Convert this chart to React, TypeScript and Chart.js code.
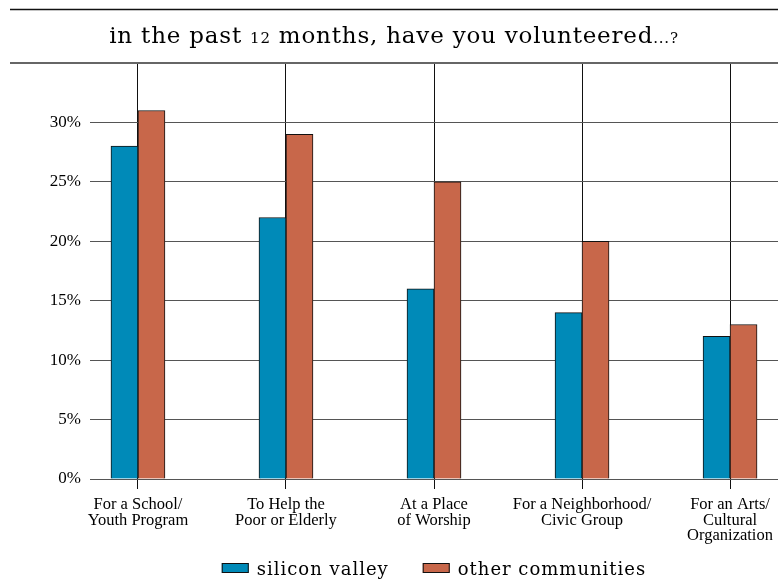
import React, { useEffect, useRef } from "react";
import { Chart, registerables } from "chart.js";

Chart.register(...registerables);

const categories: string[][] = [
  ["For a School/", "Youth Program"],
  ["To Help the", "Poor or Elderly"],
  ["At a Place", "of Worship"],
  ["For a Neighborhood/", "Civic Group"],
  ["For an Arts/", "Cultural", "Organization"],
];
const siliconValley = [28, 22, 16, 14, 12];
const otherCommunities = [31, 29, 25, 20, 13];
const seriesNames = ["silicon valley", "other communities"];
const seriesColors = ["#008AB8", "#C8674A"];
const yMax = 35;
const yStep = 5;
const titleParts = [
  { text: "in the past ", small: false },
  { text: "12", small: true },
  { text: " months, have you volunteered", small: false },
  { text: "...?", small: true },
];

const TITLE_FONT = '"DejaVu Serif"';
const AXIS_FONT = '"Liberation Serif"';

const decorPlugin = {
  id: "decor",
  afterDraw(chart: any) {
    const ctx = chart.ctx as CanvasRenderingContext2D;
    const area = chart.chartArea;
    const lineLeft = 10;
    const lineRight = area.right;
    ctx.save();
    // top black rule
    ctx.strokeStyle = "#111";
    ctx.lineWidth = 1.5;
    ctx.beginPath();
    ctx.moveTo(lineLeft, 9.5);
    ctx.lineTo(lineRight, 9.5);
    ctx.stroke();
    // gray rule under title
    ctx.strokeStyle = "#666";
    ctx.lineWidth = 2;
    ctx.beginPath();
    ctx.moveTo(lineLeft, area.top);
    ctx.lineTo(lineRight, area.top);
    ctx.stroke();

    // title
    (ctx as any).letterSpacing = "0.8px";
    ctx.fillStyle = "#000";
    ctx.textBaseline = "alphabetic";
    ctx.textAlign = "left";
    const fontFor = (small: boolean) => `${small ? 15 : 23}px ${TITLE_FONT}`;
    let total = 0;
    const widths = titleParts.map((p) => {
      ctx.font = fontFor(p.small);
      const w = ctx.measureText(p.text).width;
      total += w;
      return w;
    });
    let x = (lineLeft + lineRight) / 2 - total / 2;
    titleParts.forEach((p, i) => {
      ctx.font = fontFor(p.small);
      ctx.fillText(p.text, x, 43);
      x += widths[i];
    });

    // legend
    (ctx as any).letterSpacing = "1px";
    ctx.font = `18px ${TITLE_FONT}`;
    const boxW = 27;
    const boxH = 10;
    const gapBoxText = 8;
    const gapItems = 34;
    const items = chart.data.datasets.map((ds: any) => ({
      label: ds.label as string,
      color: ds.backgroundColor as string,
      w: ctx.measureText(ds.label).width,
    }));
    let legendW = 0;
    items.forEach((it: any, i: number) => {
      legendW += boxW + gapBoxText + it.w + (i < items.length - 1 ? gapItems : 0);
    });
    let lx = (area.left + area.right) / 2 - legendW / 2;
    const baseY = 575;
    items.forEach((it: any) => {
      ctx.fillStyle = it.color;
      ctx.fillRect(lx, baseY - 12, boxW, boxH);
      ctx.strokeStyle = "#111";
      ctx.lineWidth = 1;
      ctx.strokeRect(lx + 0.5, baseY - 12 + 0.5, boxW - 1, boxH - 1);
      ctx.fillStyle = "#000";
      ctx.fillText(it.label, lx + boxW + gapBoxText, baseY);
      lx += boxW + gapBoxText + it.w + gapItems;
    });
    ctx.restore();
  },
};

export default function App() {
  const canvasRef = useRef<HTMLCanvasElement | null>(null);

  useEffect(() => {
    if (!canvasRef.current) return;
    const chart = new Chart(canvasRef.current, {
      type: "bar",
      data: {
        datasets: [
          {
            label: seriesNames[0],
            data: siliconValley.map((v, i) => ({ x: i, y: v })),
            backgroundColor: seriesColors[0],
            borderColor: "#111",
            borderWidth: 1,
            barThickness: 27,
          },
          {
            label: seriesNames[1],
            data: otherCommunities.map((v, i) => ({ x: i, y: v })),
            backgroundColor: seriesColors[1],
            borderColor: "#111",
            borderWidth: 1,
            barThickness: 27,
          },
        ],
      },
      options: {
        responsive: false,
        animation: false,
        devicePixelRatio: 1,
        layout: { padding: { top: 63, right: 6, left: 0, bottom: 0 } },
        plugins: {
          legend: { display: false },
          title: { display: false },
          tooltip: { enabled: false },
        },
        scales: {
          x: {
            type: "linear",
            offset: false,
            min: -0.324,
            max: categories.length - 1 + 0.324,
            afterBuildTicks: (scale: any) => {
              scale.ticks = categories.map((_, i) => ({ value: i }));
            },
            afterFit: (scale: any) => {
              scale.height = 103;
            },
            ticks: {
              autoSkip: false,
              maxRotation: 0,
              minRotation: 0,
              padding: 8,
              color: "#000",
              font: { family: AXIS_FONT, size: 16.5, lineHeight: 0.94 },
              callback: (v: any) => categories[Math.round(Number(v))] ?? "",
            },
            grid: { color: "#111", lineWidth: 1, tickLength: 10, offset: false, drawOnChartArea: true },
            border: { display: false },
          },
          y: {
            min: 0,
            max: yMax,
            afterFit: (scale: any) => {
              scale.width = 90;
            },
            ticks: {
              stepSize: yStep,
              padding: 9,
              color: "#000",
              font: { family: AXIS_FONT, size: 17 },
              callback: (v: any) => (Number(v) >= yMax ? "" : `${v}%`),
            },
            grid: { color: "#555", lineWidth: 1, drawTicks: false },
            border: { display: false },
          },
        },
      },
      plugins: [decorPlugin],
    } as any);
    return () => chart.destroy();
  }, []);

  return (
    <div style={{ position: "fixed", left: 0, top: 0, width: 784, height: 582, background: "#fff" }}>
      <canvas ref={canvasRef} width={784} height={582} style={{ width: 784, height: 582, display: "block" }} />
    </div>
  );
}
